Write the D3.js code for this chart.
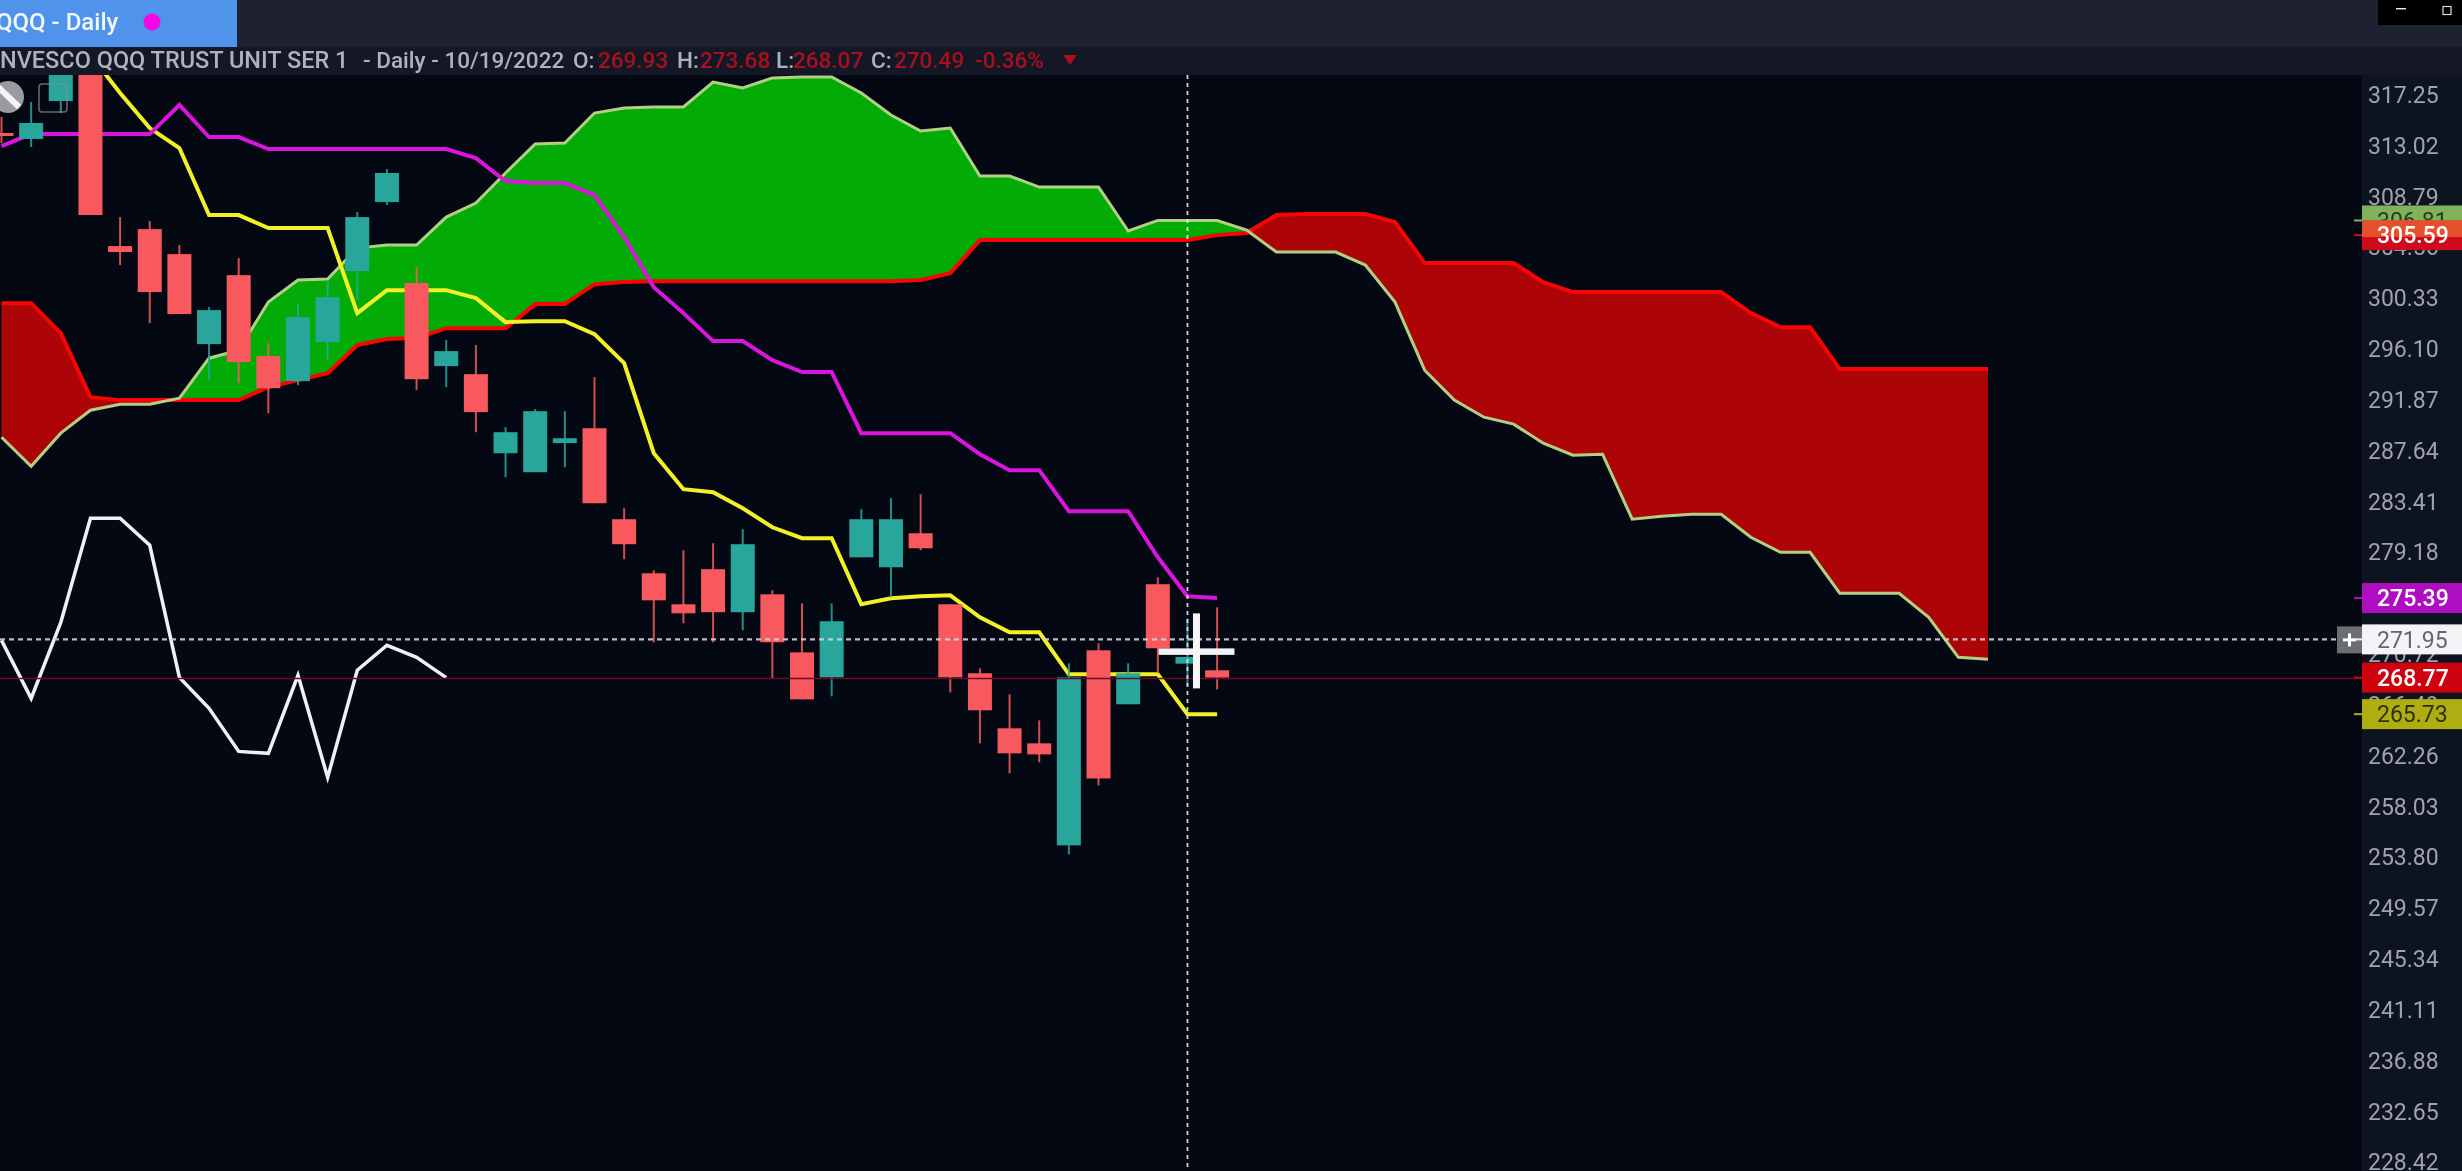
<!DOCTYPE html>
<html>
<head>
<meta charset="utf-8">
<title>QQQ - Daily</title>
<script src="https://cdn.jsdelivr.net/npm/d3@7"></script>
<style>
    html, body { margin: 0; padding: 0; background: #040812; overflow: hidden; }
    svg { display: block; font-family: Roboto, "Liberation Sans", sans-serif; }
    .soft { filter: blur(0.6px); }
</style>
</head>
<body>
<svg id="chart"></svg>
<script>
// candles, oldest first
const opens = [314.09, 313.59, 316.75, 320.16, 304.68, 306.09, 304.01, 296.52, 302.26, 295.52, 293.44, 296.69, 302.60, 308.34, 301.60, 294.69, 294.02, 287.44, 285.86, 288.28, 289.52, 281.95, 277.45, 274.87, 277.79, 274.21, 275.70, 270.87, 268.79, 278.78, 277.95, 280.78, 274.87, 269.13, 264.55, 263.30, 254.81, 271.04, 266.55, 276.54, 269.93, 269.38]
const highs = [315.42, 316.67, 321.00, 321.50, 307.09, 306.76, 304.76, 299.60, 303.68, 296.60, 299.93, 301.85, 307.51, 311.09, 302.93, 296.85, 296.44, 289.61, 291.11, 290.94, 293.77, 282.86, 277.70, 279.37, 279.95, 281.12, 276.04, 274.95, 274.95, 282.78, 283.70, 284.03, 274.87, 269.54, 267.38, 265.21, 269.96, 271.62, 269.96, 277.12, 273.68, 274.62]
const lows = [313.25, 312.92, 315.75, 307.26, 303.10, 298.27, 299.02, 293.52, 293.27, 290.77, 293.10, 295.19, 300.18, 308.09, 292.69, 292.94, 289.19, 285.44, 285.86, 286.28, 283.28, 278.62, 271.71, 273.29, 271.71, 272.71, 268.71, 266.96, 267.21, 278.78, 275.45, 279.37, 267.54, 263.30, 260.80, 261.72, 254.06, 259.80, 266.55, 269.13, 268.07, 267.79]
const closes = [313.84, 314.92, 320.16, 307.26, 304.18, 300.85, 299.02, 299.35, 295.02, 292.85, 298.77, 300.43, 307.09, 310.76, 293.60, 295.94, 290.86, 289.19, 290.94, 288.69, 283.28, 279.87, 275.20, 274.12, 274.21, 279.87, 271.71, 266.96, 273.46, 281.95, 281.95, 279.53, 268.79, 266.05, 262.47, 262.38, 268.79, 260.38, 269.13, 271.21, 270.49, 268.77]

// conversion line starts at bar 2
const tenkanStart = 2
const tenkan = [323.08, 320.58, 317.42, 314.50, 312.84, 307.26, 307.26, 306.18, 306.18, 306.18, 299.10, 301.01, 301.01, 301.01, 300.35, 298.35, 298.43, 298.43, 297.35, 294.94, 287.44, 284.45, 284.20, 282.86, 281.28, 280.37, 280.37, 274.87, 275.37, 275.54, 275.62, 273.79, 272.54, 272.54, 269.04, 269.04, 269.04, 269.04, 265.73, 265.73]
const kijun = [313.00, 314.00, 314.00, 314.00, 314.00, 314.00, 316.42, 313.75, 313.75, 312.75, 312.75, 312.75, 312.75, 312.75, 312.75, 312.75, 312.00, 310.09, 309.92, 309.92, 308.92, 305.43, 301.26, 299.10, 296.77, 296.77, 295.19, 294.19, 294.19, 289.11, 289.11, 289.11, 289.11, 287.36, 286.03, 286.03, 282.61, 282.61, 282.61, 278.78, 275.54, 275.39]
const chikou = [271.87, 267.04, 273.37, 282.03, 282.03, 279.78, 268.79, 266.21, 262.63, 262.47, 268.96, 260.47, 269.38, 271.46, 270.46, 268.77]

// cloud runs 26 bars past the last candle
const spanA = [288.77, 286.36, 289.11, 291.02, 291.52, 291.52, 292.02, 295.35, 296.02, 300.02, 301.85, 301.93, 304.51, 304.76, 304.76, 307.09, 308.26, 310.76, 313.17, 313.25, 315.75, 316.17, 316.25, 316.25, 318.33, 317.83, 318.67, 318.75, 318.75, 317.42, 315.59, 314.25, 314.50, 310.51, 310.51, 309.59, 309.59, 309.59, 305.93, 306.81, 306.81, 306.81, 306.01, 304.18, 304.18, 304.18, 303.10, 300.02, 294.35, 291.86, 290.44, 289.86, 288.28, 287.28, 287.36, 281.95, 282.20, 282.36, 282.36, 280.45, 279.20, 279.20, 275.79, 275.79, 275.79, 273.79, 270.46, 270.29]
const spanB = [299.93, 299.93, 297.43, 292.11, 291.86, 291.86, 291.86, 291.86, 291.86, 292.94, 293.52, 294.10, 296.44, 296.94, 297.02, 297.85, 297.85, 297.85, 299.85, 299.85, 301.51, 301.68, 301.76, 301.76, 301.76, 301.76, 301.76, 301.76, 301.76, 301.76, 301.76, 301.85, 302.43, 305.18, 305.18, 305.18, 305.18, 305.18, 305.18, 305.18, 305.18, 305.59, 305.76, 307.26, 307.34, 307.34, 307.34, 306.68, 303.26, 303.26, 303.26, 303.26, 301.68, 300.85, 300.85, 300.85, 300.85, 300.85, 300.85, 299.10, 297.93, 297.93, 294.44, 294.44, 294.44, 294.44, 294.44, 294.44]

const tickLabels = [317.25, 313.02, 308.79, 304.56, 300.33, 296.10, 291.87, 287.64, 283.41, 279.18, 274.95, 270.72, 266.49, 262.26, 258.03, 253.80, 249.57, 245.34, 241.11, 236.88, 232.65, 228.42]

// price tags on the axis
const tagValues = [306.81, 305.59, 275.39, 271.95, 268.77, 265.73]
const tagFills = ["#7fb35a", "url(#tagSplit)", "#ad0fc0", "#f4f4f6", "#cf0210", "#aeae12"]
const tagTexts = ["#2c3a20", "#ffffff", "#ffffff", "#63666d", "#ffffff", "#30300a"]

const crossPrice = 271.95
const crossBar = 40
const lastPrice = 268.77

// header row pieces: [text, x, colour]
const headerParts = [
    ["NVESCO QQQ TRUST UNIT SER 1", 0, "#aeb3bb"],
    ["- Daily - 10/19/2022", 363, "#aeb3bb"],
    ["O:", 573, "#aeb3bb"],
    ["269.93", 598, "#a8101e"],
    ["H:", 677, "#aeb3bb"],
    ["273.68", 700, "#a8101e"],
    ["L:", 776, "#aeb3bb"],
    ["268.07", 793, "#a8101e"],
    ["C:", 871, "#aeb3bb"],
    ["270.49", 894, "#a8101e"],
    ["-0.36%", 975, "#a8101e"]
]

class IchimokuChart {
    margin = {
        top: 75, right: 100, bottom: 0, left: 0
    }

    constructor(svg, width, height){
        this.svg = svg
        this.width = width
        this.height = height
    }

    initialize(){
        this.svg = d3.select(this.svg)
            .attr("width", this.width)
            .attr("height", this.height)

        this.plotRight = this.width - this.margin.right

        // bar index -> x, price -> y
        this.xScale = d3.scaleLinear().domain([0, 67]).range([1.5, 1988])
        this.yScale = d3.scaleLinear().domain([317.25, 228.42]).range([95, 1162.5])

        this.svg.append("rect").attr("width", this.width).attr("height", this.height).attr("fill", "#040812")

        const defs = this.svg.append("defs")
        defs.append("clipPath").attr("id", "plotClip")
            .append("rect")
            .attr("x", 0).attr("y", this.margin.top)
            .attr("width", this.plotRight).attr("height", this.height - this.margin.top)

        // 305.59 tag sits over the green one, upper part looks orange
        const split = defs.append("linearGradient").attr("id", "tagSplit")
            .attr("x1", 0).attr("y1", 0).attr("x2", 0).attr("y2", 1)
        split.append("stop").attr("offset", "55%").attr("stop-color", "#e4502c")
        split.append("stop").attr("offset", "55%").attr("stop-color", "#cf0a1c")

        this.plot = this.svg.append("g").attr("clip-path", "url(#plotClip)")
            .append("g").attr("class", "soft")
    }

    drawCloud(){
        const x = this.xScale, y = this.yScale
        const cloud = spanA.map((a, i) => ({i, a, b: spanB[i]}))

        const green = d3.area().x(d => x(d.i)).y0(d => y(d.b)).y1(d => y(Math.max(d.a, d.b)))
        const red = d3.area().x(d => x(d.i)).y0(d => y(d.b)).y1(d => y(Math.min(d.a, d.b)))

        this.plot.append("path").attr("d", green(cloud)).attr("fill", "#02ab05")
        this.plot.append("path").attr("d", red(cloud)).attr("fill", "#ad0507")

        const lineB = d3.line().x(d => x(d.i)).y(d => y(d.b))
        const lineA = d3.line().x(d => x(d.i)).y(d => y(d.a))
        this.plot.append("path").attr("d", lineB(cloud))
            .attr("fill", "none").attr("stroke", "#f80404").attr("stroke-width", 4)
        this.plot.append("path").attr("d", lineA(cloud))
            .attr("fill", "none").attr("stroke", "#b3cf85").attr("stroke-width", 3)
    }

    drawCandles(){
        const x = this.xScale, y = this.yScale
        const bars = opens.map((o, i) => ({i, o, h: highs[i], l: lows[i], c: closes[i]}))
        const color = d => d.c >= d.o ? "#28a69b" : "#f8595e"
        const bodyW = 24

        const g = this.plot.append("g")
        g.selectAll(".wick")
            .data(bars)
            .join("line")
            .attr("class", "wick")
            .attr("x1", d => x(d.i)).attr("x2", d => x(d.i))
            .attr("y1", d => y(d.h)).attr("y2", d => y(d.l))
            .attr("stroke", color).attr("stroke-width", 2)
            .attr("stroke-opacity", 0.85)
        g.selectAll(".body")
            .data(bars)
            .join("rect")
            .attr("class", "body")
            .attr("x", d => x(d.i) - bodyW / 2)
            .attr("width", bodyW)
            .attr("y", d => y(Math.max(d.o, d.c)))
            .attr("height", d => Math.max(2, Math.abs(y(d.o) - y(d.c))))
            .attr("fill", color)
    }

    drawLine(values, start, stroke, lineW){
        const line = d3.line().x((d, i) => this.xScale(i + start)).y(d => this.yScale(d))
        this.plot.append("path")
            .attr("d", line(values))
            .attr("fill", "none")
            .attr("stroke", stroke)
            .attr("stroke-width", lineW)
            .attr("stroke-linejoin", "miter")
    }

    drawCrosshair(){
        const x = this.xScale(crossBar), y = this.yScale(crossPrice)

        this.plot.append("line")
            .attr("x1", 0).attr("x2", this.plotRight)
            .attr("y1", this.yScale(lastPrice) + 1).attr("y2", this.yScale(lastPrice) + 1)
            .attr("stroke", "#6a0a2c").attr("stroke-width", 1.5)

        this.plot.append("line")
            .attr("x1", 0).attr("x2", this.plotRight - 25)
            .attr("y1", y).attr("y2", y)
            .attr("stroke", "#d0d2d7").attr("stroke-opacity", 0.9)
            .attr("stroke-width", 2.4).attr("stroke-dasharray", "5 4")

        this.plot.append("line")
            .attr("x1", x).attr("x2", x)
            .attr("y1", this.margin.top).attr("y2", this.height)
            .attr("stroke", "#e6e8ec").attr("stroke-opacity", 0.9)
            .attr("stroke-width", 1.8).attr("stroke-dasharray", "4 4")

        // mouse cursor sitting next to the crosshair
        const cx = x + 9, cy = y + 12
        this.plot.append("rect").attr("x", cx - 38).attr("y", cy - 3).attr("width", 76).attr("height", 6.5).attr("fill", "#f2f2f4")
        this.plot.append("rect").attr("x", cx - 3.5).attr("y", cy - 38).attr("width", 7).attr("height", 75).attr("fill", "#f6f6f8")

        // "+" box at the end of the horizontal line
        const plusX = this.plotRight - 25
        const box = this.svg.append("g").attr("transform", `translate(${plusX}, ${y - 13})`)
        box.append("rect").attr("width", 25).attr("height", 27).attr("fill", "#6c6e73")
        box.append("rect").attr("x", 6).attr("y", 12).attr("width", 13).attr("height", 3).attr("fill", "#fff")
        box.append("rect").attr("x", 11).attr("y", 7).attr("width", 3).attr("height", 13).attr("fill", "#fff")
    }

    drawAxis(){
        this.svg.append("rect")
            .attr("x", this.plotRight).attr("y", this.margin.top)
            .attr("width", this.margin.right).attr("height", this.height - this.margin.top)
            .attr("fill", "#0e1320")

        const axis = this.svg.append("g")
            .attr("class", "soft")
            .attr("transform", `translate(${this.plotRight}, 0)`)
            .call(d3.axisRight(this.yScale)
                .tickValues(tickLabels)
                .tickFormat(d3.format(".2f"))
                .tickSize(0)
                .tickPadding(6))
        axis.select(".domain").remove()
        axis.selectAll("text")
            .attr("fill", "#9ea3ad")
            .attr("font-family", "Roboto")
            .attr("font-size", 23)
    }

    drawTags(){
        const y = this.yScale
        const tagH = 30

        tagValues.forEach((v, k) => {
            const g = this.svg.append("g").attr("transform", `translate(${this.plotRight}, ${y(v)})`)
            g.append("line").attr("x1", -8).attr("x2", 0)
                .attr("stroke", k == 1 ? "#cf0a1c" : tagFills[k]).attr("stroke-width", 2)
            g.append("rect")
                .attr("y", -tagH / 2).attr("width", this.margin.right).attr("height", tagH)
                .attr("fill", tagFills[k])
            g.append("text")
                .attr("class", "soft")
                .attr("x", 15).attr("dy", "0.36em")
                .attr("fill", tagTexts[k])
                .attr("font-size", 23)
                .attr("font-weight", tagTexts[k] == "#ffffff" ? 500 : 400)
                .text(v.toFixed(2))
        })
    }

    drawHeader(){
        this.svg.append("rect").attr("width", this.width).attr("height", 47).attr("fill", "#1d2130")
        this.svg.append("rect").attr("y", 47).attr("width", this.width).attr("height", 28).attr("fill", "#141826")

        // tab
        this.svg.append("rect").attr("width", 237).attr("height", 47).attr("fill", "#4f94ea")
        this.svg.append("text")
            .attr("class", "soft")
            .attr("x", -4).attr("y", 30)
            .attr("fill", "#f2f6fc").attr("font-size", 24).attr("font-weight", 500)
            .text("QQQ - Daily")
        this.svg.append("circle").attr("cx", 152).attr("cy", 22).attr("r", 8.5).attr("fill", "#f707e6")

        // symbol row
        this.svg.append("g").attr("class", "soft")
            .selectAll("text")
            .data(headerParts)
            .join("text")
            .attr("x", d => d[1])
            .attr("y", 68)
            .attr("fill", d => d[2])
            .attr("font-size", (d, i) => i == 0 ? 23.5 : 22.5)
            .attr("font-weight", 500)
            .text(d => d[0])
        this.svg.append("path").attr("d", "M1063,55 L1077,55 L1070,65 Z").attr("fill", "#a8101e")

        // window buttons
        this.svg.append("rect").attr("x", 2378).attr("width", 84).attr("height", 25).attr("fill", "#000")
        this.svg.append("rect").attr("x", 2396).attr("y", 8).attr("width", 10).attr("height", 1.4).attr("fill", "#eee")
        this.svg.append("rect").attr("x", 2443).attr("y", 6.5).attr("width", 8).attr("height", 8)
            .attr("fill", "none").attr("stroke", "#ddd").attr("stroke-width", 1.2)

        // chart tools at the left edge
        const tools = this.svg.append("g")
        tools.append("circle").attr("cx", 8).attr("cy", 97).attr("r", 16).attr("fill", "#9a9a9f")
        tools.append("line").attr("x1", -2).attr("y1", 87).attr("x2", 19).attr("y2", 107)
            .attr("stroke", "#f4f4f4").attr("stroke-width", 6)
        tools.append("rect").attr("x", 39).attr("y", 84).attr("width", 28).attr("height", 28).attr("rx", 3)
            .attr("fill", "none").attr("stroke", "#8c8f96").attr("stroke-opacity", 0.7).attr("stroke-width", 1.6)
    }

    update(){
        this.drawCloud()
        this.drawLine(chikou, 0, "#f0f0f2", 3.5)
        this.drawLine(tenkan, tenkanStart, "#f2f026", 4)
        this.drawLine(kijun, 0, "#d914dc", 4)
        // candles cover the lines in the original
        this.drawCandles()
        this.drawCrosshair()
        this.drawAxis()
        this.drawTags()
        this.drawHeader()
    }
}

const chart = new IchimokuChart(document.querySelector("#chart"), 2462, 1171)
chart.initialize()
chart.update()
</script>
</body>
</html>
